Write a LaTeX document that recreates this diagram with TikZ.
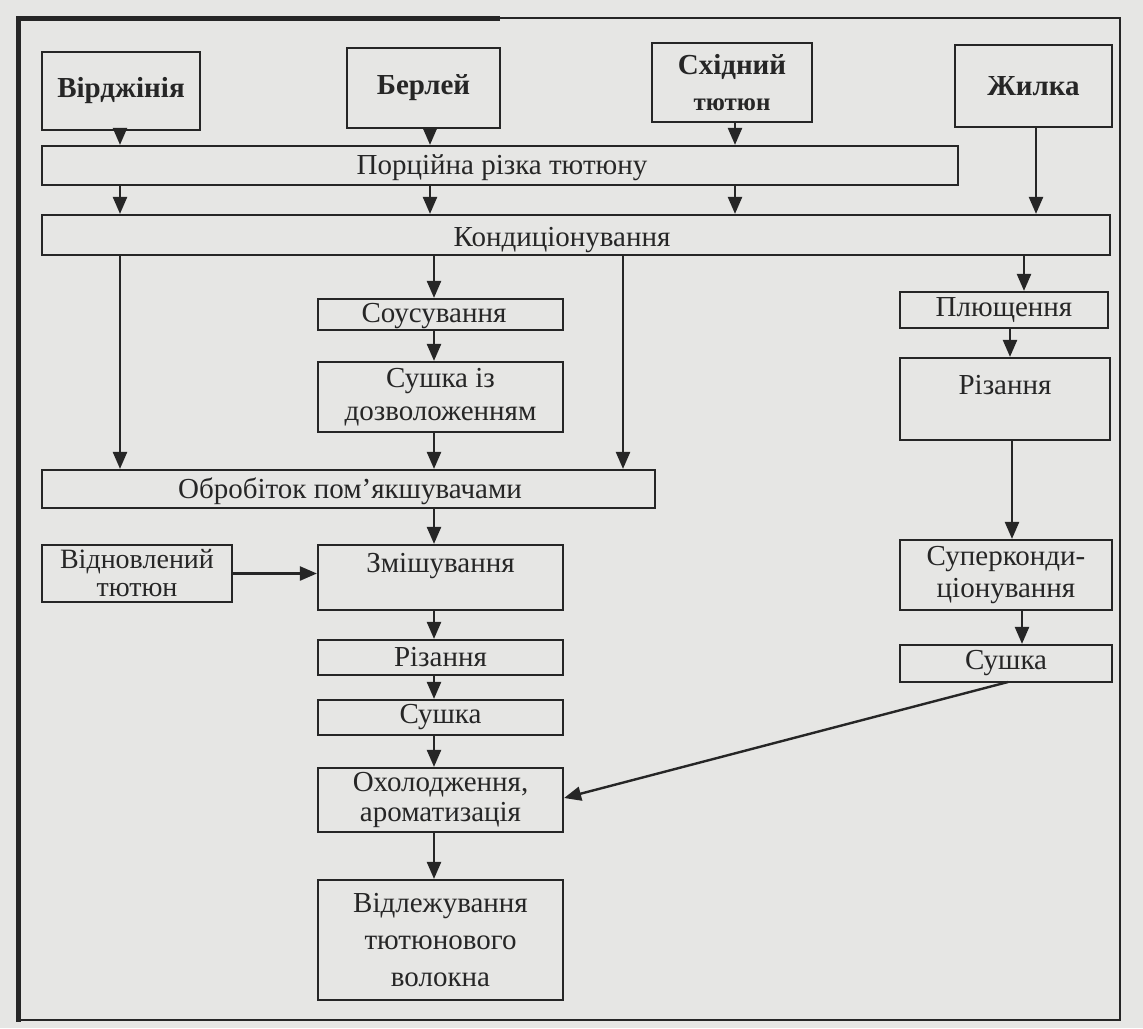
\documentclass[tikz,border=0pt]{standalone}
\usepackage{fontspec}
\setmainfont{Liberation Serif}
\usetikzlibrary{arrows.meta}
\definecolor{paper}{HTML}{E6E6E4}
\definecolor{ink}{HTML}{262626}
\tikzset{
  txt/.style={font=\fontsize{29}{35}\selectfont, text=ink, align=center},
  box/.style={txt, draw=ink, line width=2.2pt, rectangle, inner sep=0pt},
  srcbox/.style={box, font=\fontsize{29}{35}\selectfont\bfseries},
  arr/.style={draw=ink, line width=2.4pt, -{Triangle[length=17pt,width=14pt]}},
}
\begin{document}
\begin{tikzpicture}[x=1pt,y=-1pt]
\useasboundingbox (0,0) rectangle (1143,1028);
\fill[paper] (0,0) rectangle (1143,1028);
% frame
\draw[ink, line width=2.8pt] (18,18) rectangle (1120,1020);
\draw[ink, line width=5pt] (18,18) -- (500,18);
\draw[ink, line width=5pt] (18,16) -- (18,1022);
% source boxes
\node[srcbox, minimum width=158, minimum height=78] (vir) at (121,91) {Вірджінія};
\node[srcbox, minimum width=153, minimum height=80] (ber) at (423.5,88) {Берлей};
\node[srcbox, minimum width=160, minimum height=79, font=\fontsize{29}{36}\selectfont\bfseries] (sch) at (732,82.5) {Східний\\{\fontsize{25}{36}\selectfont тютюн}};
\node[srcbox, minimum width=157, minimum height=82] (zhy) at (1033.5,86) {Жилка};
% wide boxes
\node[box, minimum width=916, minimum height=39] (por) at (500,165.5) {};
\node[txt] at (502,168) {Порційна різка тютюну};
\node[box, minimum width=1068, minimum height=40] (kon) at (576,235) {};
\node[txt] at (562,240) {Кондиціонування};
\node[box, minimum width=613, minimum height=38] (obr) at (348.5,489) {};
\node[txt] at (350,491) {Обробіток пом’якшувачами};
% middle column
\node[box, minimum width=245, minimum height=31] (sou) at (440.5,314.5) {};
\node[txt] at (434,316) {Соусування};
\node[box, minimum width=245, minimum height=70, font=\fontsize{29}{33}\selectfont] (sud) at (440.5,397) {Сушка із\\дозволоженням};
\node[box, minimum width=190, minimum height=57, font=\fontsize{28}{28}\selectfont] (vid) at (137,573.5) {Відновлений\\тютюн};
\node[box, minimum width=245, minimum height=65] (zmi) at (440.5,577.5) {};
\node[txt] at (440.5,566) {Змішування};
\node[box, minimum width=245, minimum height=35] (riz) at (440.5,657.5) {Різання};
\node[box, minimum width=245, minimum height=35] (sus) at (440.5,717.5) {Сушка};
\node[box, minimum width=245, minimum height=64, font=\fontsize{29}{30}\selectfont] (oho) at (440.5,800) {Охолодження,\\ароматизація};
\node[box, minimum width=245, minimum height=120, font=\fontsize{29}{37}\selectfont] (vil) at (440.5,940) {Відлежування\\тютюнового\\волокна};
% right column
\node[box, minimum width=208, minimum height=36] (plu) at (1004,310) {Плющення};
\node[box, minimum width=210, minimum height=82] (rz2) at (1005,399) {};
\node[txt] at (1005,385) {Різання};
\node[box, minimum width=212, minimum height=70, font=\fontsize{29}{32}\selectfont] (sup) at (1006,575) {Суперконди-\\ціонування};
\node[box, minimum width=212, minimum height=37] (su2) at (1006,663.5) {Сушка};
% arrows: sources -> portion cutting
\draw[arr] (vir.south -| 120,0) -- (por.north -| 120,0);
\draw[arr] (ber.south -| 430,0) -- (por.north -| 430,0);
\draw[arr] (sch.south -| 735,0) -- (por.north -| 735,0);
% portion -> conditioning
\draw[arr] (por.south -| 120,0) -- (kon.north -| 120,0);
\draw[arr] (por.south -| 430,0) -- (kon.north -| 430,0);
\draw[arr] (por.south -| 735,0) -- (kon.north -| 735,0);
\draw[arr] (zhy.south -| 1036,0) -- (kon.north -| 1036,0);
% conditioning ->
\draw[arr] (kon.south -| 120,0) -- (obr.north -| 120,0);
\draw[arr] (kon.south -| 434,0) -- (sou.north -| 434,0);
\draw[arr] (kon.south -| 623,0) -- (obr.north -| 623,0);
\draw[arr] (kon.south -| 1024,0) -- (plu.north -| 1024,0);
% middle chain
\draw[arr] (sou.south -| 434,0) -- (sud.north -| 434,0);
\draw[arr] (sud.south -| 434,0) -- (obr.north -| 434,0);
\draw[arr] (obr.south -| 434,0) -- (zmi.north -| 434,0);
\draw[arr] (vid.east) -- (vid.east -| zmi.west);
\draw[arr] (zmi.south -| 434,0) -- (riz.north -| 434,0);
\draw[arr] (riz.south -| 434,0) -- (sus.north -| 434,0);
\draw[arr] (sus.south -| 434,0) -- (oho.north -| 434,0);
\draw[arr] (oho.south -| 434,0) -- (vil.north -| 434,0);
% right chain
\draw[arr] (plu.south -| 1010,0) -- (rz2.north -| 1010,0);
\draw[arr] (rz2.south -| 1012,0) -- (sup.north -| 1012,0);
\draw[arr] (sup.south -| 1022,0) -- (su2.north -| 1022,0);
\coordinate (s2out) at (1008,682);
\draw[arr] (s2out) -- (oho.east |- 0,798);
\end{tikzpicture}
\end{document}
